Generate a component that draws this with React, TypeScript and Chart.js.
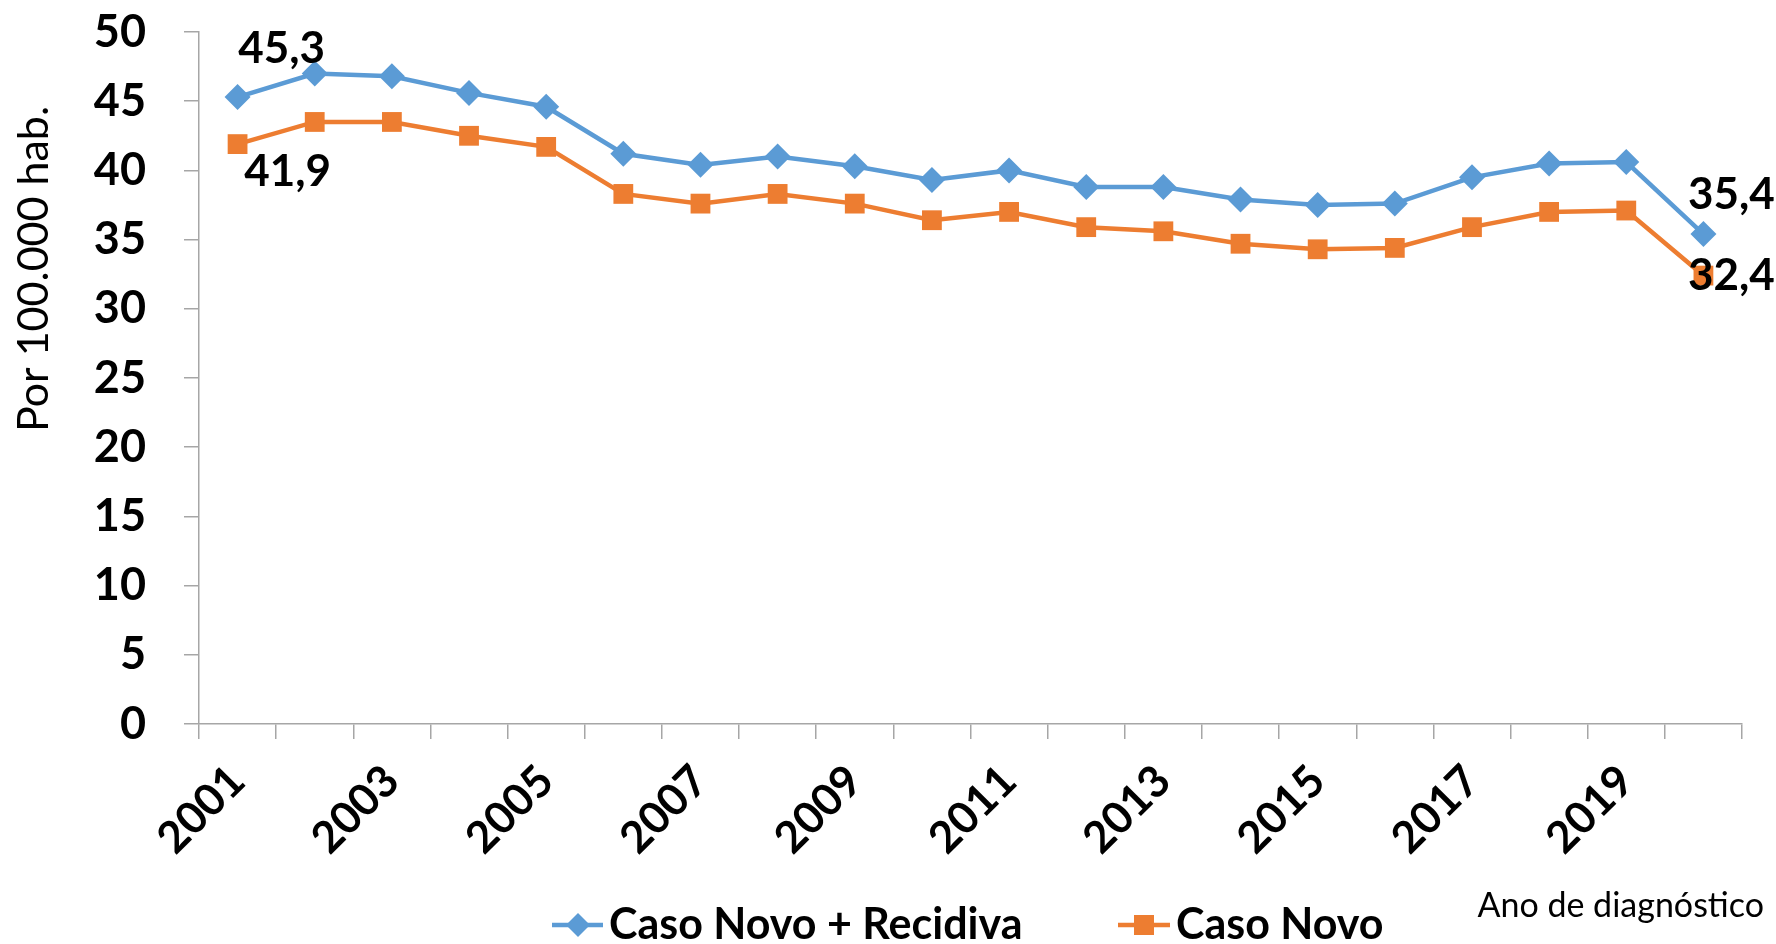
import React, { useEffect, useRef } from "react";
import { Chart, registerables } from "chart.js";

Chart.register(...registerables);

const years = ["2001","2002","2003","2004","2005","2006","2007","2008","2009","2010","2011","2012","2013","2014","2015","2016","2017","2018","2019","2020"];
const casoNovoRecidiva = [45.3, 47.0, 46.8, 45.6, 44.6, 41.2, 40.4, 41.0, 40.3, 39.3, 40.0, 38.8, 38.8, 37.9, 37.5, 37.6, 39.5, 40.5, 40.6, 35.4];
const casoNovo = [41.9, 43.5, 43.5, 42.5, 41.7, 38.3, 37.6, 38.3, 37.6, 36.4, 37.0, 35.9, 35.6, 34.7, 34.3, 34.4, 35.9, 37.0, 37.1, 32.4];
const seriesNames = ["Caso Novo + Recidiva", "Caso Novo"];
const yAxisTitle = "Por 100.000 hab.";
const xAxisTitle = "Ano de diagnóstico";
const yMin = 0;
const yMax = 50;
const yStep = 5;

const BLUE = "#5B9BD5";
const ORANGE = "#ED7D31";
const AXIS = "#A6A6A6";
const FONT = "Lato";

// which points get value labels, and where (offset from the point)
const valueLabels = [
  { ds: 0, idx: 0, dx: 44, dy: -48 },
  { ds: 1, idx: 0, dx: 50, dy: 28 },
  { ds: 0, idx: 19, dx: 28, dy: -39 },
  { ds: 1, idx: 19, dx: 28, dy: 0 },
];

function drawDiamond(ctx: CanvasRenderingContext2D, x: number, y: number, r: number) {
  ctx.beginPath();
  ctx.moveTo(x, y - r);
  ctx.lineTo(x + r, y);
  ctx.lineTo(x, y + r);
  ctx.lineTo(x - r, y);
  ctx.closePath();
  ctx.fill();
}

const overlayPlugin = {
  id: "overlay",
  afterDraw(chart: any) {
    const ctx = chart.ctx as CanvasRenderingContext2D;
    ctx.save();
    // value labels
    ctx.fillStyle = "#000";
    ctx.font = `bold 44px ${FONT}`;
    ctx.textAlign = "center";
    ctx.textBaseline = "middle";
    const fmt = (v: number) => v.toFixed(1).replace(".", ",");
    valueLabels.forEach((l) => {
      const meta = chart.getDatasetMeta(l.ds);
      const pt = meta.data[l.idx];
      const v = chart.data.datasets[l.ds].data[l.idx] as number;
      ctx.fillText(fmt(v), pt.x + l.dx, pt.y + l.dy);
    });

    // y axis title
    ctx.save();
    ctx.translate(34, 269);
    ctx.rotate(-Math.PI / 2);
    ctx.font = `43px ${FONT}`;
    ctx.textAlign = "center";
    ctx.textBaseline = "middle";
    ctx.fillText(yAxisTitle, 0, 0);
    ctx.restore();

    // x axis title
    ctx.font = `34px ${FONT}`;
    ctx.textAlign = "right";
    ctx.textBaseline = "middle";
    ctx.fillText(xAxisTitle, 1764, 906);

    // legend
    const ly = 925;
    ctx.lineWidth = 4.5;
    ctx.strokeStyle = BLUE;
    ctx.fillStyle = BLUE;
    ctx.beginPath();
    ctx.moveTo(552, ly);
    ctx.lineTo(603, ly);
    ctx.stroke();
    drawDiamond(ctx, 578, ly, 12);
    ctx.strokeStyle = ORANGE;
    ctx.fillStyle = ORANGE;
    ctx.beginPath();
    ctx.moveTo(1118, ly);
    ctx.lineTo(1170, ly);
    ctx.stroke();
    ctx.fillRect(1144 - 10, ly - 10, 20, 20);

    ctx.fillStyle = "#000";
    ctx.font = `bold 43px ${FONT}`;
    ctx.textAlign = "left";
    ctx.textBaseline = "middle";
    ctx.fillText(seriesNames[0], 609, ly);
    ctx.fillText(seriesNames[1], 1176, ly);
    ctx.restore();
  },
};

export default function App() {
  const canvasRef = useRef<HTMLCanvasElement | null>(null);

  useEffect(() => {
    if (!canvasRef.current) return;
    const chart = new Chart(canvasRef.current, {
      type: "line",
      data: {
        labels: years,
        datasets: [
          {
            label: seriesNames[0],
            data: casoNovoRecidiva,
            borderColor: BLUE,
            backgroundColor: BLUE,
            borderWidth: 4.5,
            pointStyle: "rectRot",
            pointRadius: 13,
            pointBorderWidth: 0,
            pointBackgroundColor: BLUE,
            tension: 0,
          },
          {
            label: seriesNames[1],
            data: casoNovo,
            borderColor: ORANGE,
            backgroundColor: ORANGE,
            borderWidth: 4.5,
            pointStyle: "rect",
            pointRadius: 14,
            pointBorderWidth: 0,
            pointBackgroundColor: ORANGE,
            tension: 0,
          },
        ],
      },
      options: {
        responsive: false,
        animation: false,
        layout: { padding: { top: 0, right: 34, left: 0, bottom: 0 } },
        plugins: {
          legend: { display: false },
          tooltip: { enabled: false },
        },
        scales: {
          x: {
            offset: true,
            grid: {
              offset: true,
              drawOnChartArea: false,
              drawTicks: true,
              tickLength: 15,
              color: AXIS,
              lineWidth: 1.5,
            },
            border: { color: AXIS, width: 1.5 },
            ticks: {
              autoSkip: false,
              maxRotation: 45,
              minRotation: 45,
              padding: 16,
              color: "#000",
              font: { family: FONT, size: 44, weight: "bold" },
              callback: (_v: any, i: number) => (i % 2 === 0 ? years[i] : ""),
            },
            afterFit: (s: any) => {
              s.height = 220;
            },
          },
          y: {
            min: yMin,
            max: yMax,
            grid: {
              drawOnChartArea: false,
              drawTicks: true,
              tickLength: 15,
              color: AXIS,
              lineWidth: 1.5,
            },
            border: { color: AXIS, width: 1.5 },
            ticks: {
              stepSize: yStep,
              padding: 38,
              color: "#000",
              font: { family: FONT, size: 45, weight: "bold" },
            },
            afterFit: (s: any) => {
              s.width = 199;
              s.paddingTop = 32;
              s.paddingBottom = 0;
            },
          },
        },
      } as any,
      plugins: [overlayPlugin],
    });
    return () => chart.destroy();
  }, []);

  return (
    <div style={{ position: "fixed", left: 0, top: 0, width: 1776, height: 944, background: "#fff" }}>
      <canvas ref={canvasRef} width={1776} height={944} style={{ display: "block" }} />
    </div>
  );
}
